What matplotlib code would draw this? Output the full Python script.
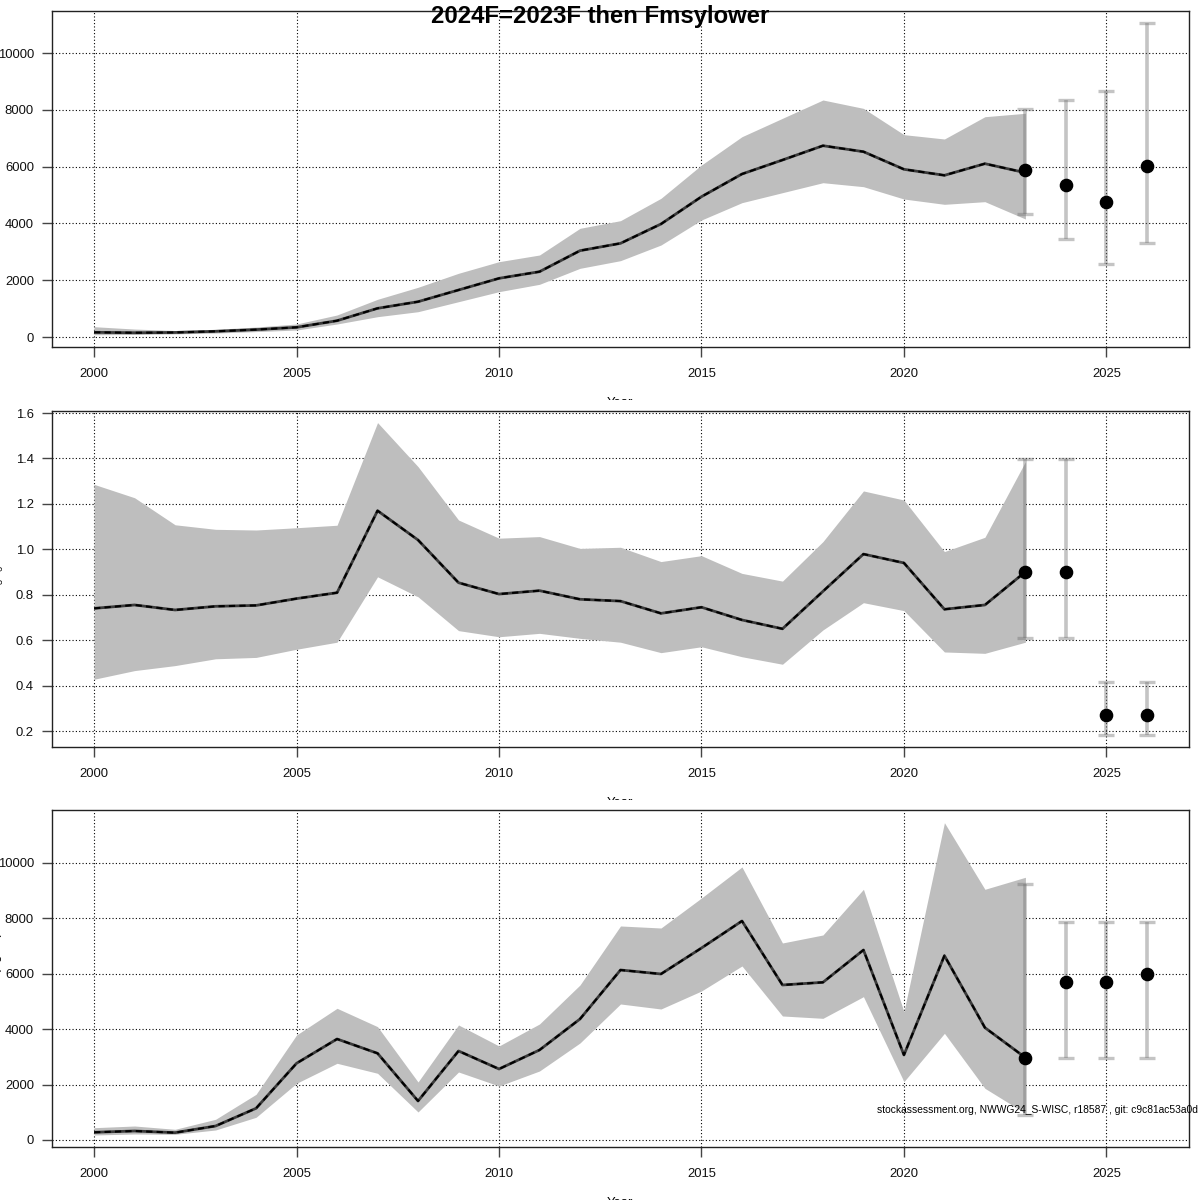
import matplotlib
matplotlib.use("Agg")
import matplotlib.pyplot as plt
from matplotlib.patches import Rectangle
import numpy as np

plt.rcParams['font.family'] = ['Liberation Sans', 'DejaVu Sans']
plt.rcParams['mathtext.fontset'] = 'custom'
plt.rcParams['mathtext.rm'] = 'Liberation Sans'
plt.rcParams['mathtext.it'] = 'Liberation Sans:italic'

title = "2024F=2023F then Fmsylower"
footnote = "stockassessment.org, NWWG24_S-WISC, r18587 , git: c9c81ac53a0d"

years = list(range(2000, 2024))
proj_years = [2023, 2024, 2025, 2026]

# SSB
ssb = [165, 150, 160, 200, 260, 341, 574, 1010, 1243, 1655, 2066, 2300, 3040, 3298,
       3979, 4941, 5739, 6232, 6736, 6525, 5905, 5693, 6103, 5785]
ssb_hi = [363, 280, 230, 270, 350, 458, 775, 1327, 1750, 2243, 2652, 2887, 3827, 4096,
          4883, 6056, 7053, 7700, 8345, 8050, 7125, 6972, 7757, 7877]
ssb_lo = [80, 90, 110, 140, 190, 246, 458, 715, 891, 1243, 1596, 1855, 2418, 2688,
          3239, 4120, 4730, 5082, 5433, 5293, 4859, 4672, 4765, 4155]
ssb_proj = [5870, 5341, 4765, 6021]
ssb_proj_hi = [8017, 8345, 8673, 11067]
ssb_proj_lo = [4320, 3451, 2570, 3310]

# Fbar
fbar = [0.740, 0.755, 0.733, 0.749, 0.753, 0.783, 0.809, 1.170, 1.041, 0.853, 0.803, 0.818,
        0.780, 0.772, 0.718, 0.745, 0.689, 0.650, 0.815, 0.979, 0.940, 0.736, 0.755, 0.901]
fbar_hi = [1.286, 1.227, 1.108, 1.088, 1.085, 1.095, 1.106, 1.558, 1.364, 1.129, 1.049, 1.056,
           1.004, 1.009, 0.946, 0.972, 0.894, 0.860, 1.034, 1.257, 1.217, 0.990, 1.053, 1.386]
fbar_lo = [0.428, 0.466, 0.488, 0.518, 0.524, 0.560, 0.591, 0.879, 0.791, 0.642, 0.615, 0.630,
           0.608, 0.591, 0.545, 0.571, 0.527, 0.494, 0.645, 0.765, 0.730, 0.548, 0.542, 0.591]
fbar_proj = [0.901, 0.901, 0.270, 0.270]
fbar_proj_hi = [1.399, 1.399, 0.417, 0.417]
fbar_proj_lo = [0.610, 0.610, 0.182, 0.182]

# Recruits
rec = [278, 325, 265, 505, 1144, 2769, 3646, 3129, 1408, 3213, 2563, 3249, 4368, 6137,
       5993, 6931, 7906, 5596, 5692, 6859, 3069, 6655, 4055, 2972]
rec_hi = [444, 505, 386, 747, 1649, 3791, 4754, 4091, 2094, 4152, 3394, 4188, 5596, 7726,
          7653, 8736, 9856, 7112, 7401, 9050, 4633, 11455, 9050, 9484]
rec_lo = [180, 217, 205, 361, 819, 2047, 2769, 2408, 1011, 2455, 1949, 2491, 3502, 4910,
          4729, 5379, 6282, 4477, 4392, 5174, 2106, 3851, 1865, 963]
rec_proj = [2972, 5692, 5692, 5981]
rec_proj_hi = [9242, 7870, 7870, 7870]
rec_proj_lo = [903, 2948, 2948, 2948]

xticks = [2000, 2005, 2010, 2015, 2020, 2025]
ssb_ticks = [0, 2000, 4000, 6000, 8000, 10000]
f_ticks = [0.2, 0.4, 0.6, 0.8, 1.0, 1.2, 1.4, 1.6]
rec_ticks = [0, 2000, 4000, 6000, 8000, 10000]

W = 1200.0
fig = plt.figure(figsize=(12, 12), dpi=100)

panels = [
    dict(top=11, bot=347, y=ssb, hi=ssb_hi, lo=ssb_lo, py=ssb_proj, phi=ssb_proj_hi, plo=ssb_proj_lo,
         ticks=ssb_ticks, ylim=(-352, 11479), ylab="SSB", fmt=lambda v: "%d" % v),
    dict(top=411, bot=747, y=fbar, hi=fbar_hi, lo=fbar_lo, py=fbar_proj, phi=fbar_proj_hi, plo=fbar_proj_lo,
         ticks=f_ticks, ylim=(0.1296, 1.609), ylab=r"$\overline{F}_{3-6}$", fmt=lambda v: "%.1f" % v),
    dict(top=810, bot=1147, y=rec, hi=rec_hi, lo=rec_lo, py=rec_proj, phi=rec_proj_hi, plo=rec_proj_lo,
         ticks=rec_ticks, ylim=(-253, 11913), ylab="Recruits (age 2)", fmt=lambda v: "%d" % v),
]

for i, p in enumerate(panels):
    ax = fig.add_axes([52 / W, 1 - p['bot'] / W, (1189 - 52) / W, (p['bot'] - p['top']) / W])
    ax.set_xlim(1998.96, 2027.04)
    ax.set_ylim(*p['ylim'])
    ax.set_xticks(xticks)
    ax.set_yticks(p['ticks'])
    ax.set_yticklabels([p['fmt'](v) for v in p['ticks']])
    for v in xticks:
        ax.axvline(v, color='black', lw=0.8, ls=(0, (1, 2)), zorder=1)
    for v in p['ticks']:
        ax.axhline(v, color='black', lw=0.8, ls=(0, (1, 2)), zorder=1)
    ax.fill_between(years, p['lo'], p['hi'], color='#bebebe', lw=0, zorder=2)
    ax.plot(years, p['y'], color='#3a3a3a', lw=2.0, zorder=3, solid_capstyle='butt')
    ax.plot(years, p['y'], color='black', lw=1.5, ls=(0, (3, 2)), zorder=4)
    yerr = [np.array(p['py']) - np.array(p['plo']), np.array(p['phi']) - np.array(p['py'])]
    ax.errorbar(proj_years, p['py'], yerr=yerr, fmt='none', ecolor=(0.45, 0.45, 0.45, 0.42),
                elinewidth=2.6, capsize=5.6, capthick=2.4, zorder=5)
    ax.plot(proj_years, p['py'], 'o', color='black', ms=8.8, zorder=6)
    for s in ax.spines.values():
        s.set_color('#222222')
        s.set_linewidth(1.0)
    ax.tick_params(axis='both', direction='out', length=7, width=1.0, color='#444444',
                   labelsize=9.4, labelcolor='#111111')
    ax.tick_params(axis='x', pad=8)
    ax.tick_params(axis='y', pad=6)
    # y label (mostly clipped at left edge, like the reference)
    fig.text(-3.5 / W, 1 - (p['top'] + p['bot']) / 2 / W, p['ylab'], rotation=90,
             ha='center', va='center', fontsize=9.4, color='black')
    # x label, clipped at the bottom of the panel's region
    region_bottom = 1 - (i + 1) * 400 / W
    t = fig.text(620 / W, 1 - 397 / W - i * 400 / W, "Year", ha='center', va='top',
                 fontsize=9.4, color='black')
    clip = Rectangle((0, region_bottom + 0.0001), 1, 400 / W, transform=fig.transFigure)
    t.set_clip_path(clip)

fig.text(600 / W, 1 - 17 / W, title, ha='center', va='center', fontsize=17.2,
         fontweight='bold', color='black')
fig.text(877 / W, 1 - 1110 / W, footnote, ha='left', va='center', fontsize=7.4, color='black')

fig.savefig("out.png", dpi=100)
